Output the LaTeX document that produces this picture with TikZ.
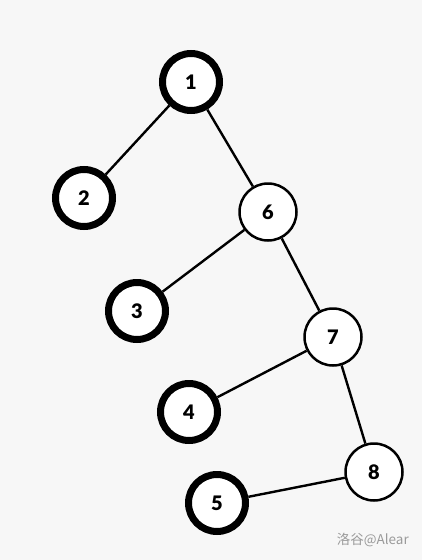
\documentclass[tikz,border=0pt]{standalone}
\usepackage{fontspec}
\setmainfont{Lato}
\newfontfamily\digitfont{Lato Black}
\newfontfamily\cjk{Noto Sans CJK SC}
\definecolor{bg}{HTML}{F7F7F7}
\definecolor{wm}{HTML}{9A9A9A}
\begin{document}
\begin{tikzpicture}[x=1pt,y=-1pt,
  vtx/.style={circle,fill=white,draw=black,minimum size=57pt,inner sep=0pt,font=\digitfont\fontsize{20}{24}\selectfont},
  heavy/.style={vtx,line width=7pt},
  light/.style={vtx,line width=2.5pt},
  edge/.style={line width=2.4pt,black}]
\fill[bg] (0,0) rectangle (422,560);
\useasboundingbox (0,0) rectangle (422,560);
\node[heavy] (n1) at (191,82) {1};
\node[heavy] (n2) at (84,198) {2};
\node[light] (n6) at (268,212) {6};
\node[heavy] (n3) at (137,311) {3};
\node[light] (n7) at (333,337) {7};
\node[heavy] (n4) at (189,412) {4};
\node[light] (n8) at (374,472) {8};
\node[heavy] (n5) at (217,503) {5};
\draw[edge] (n1) -- (n2);
\draw[edge] (n1) -- (n6);
\draw[edge] (n6) -- (n3);
\draw[edge] (n6) -- (n7);
\draw[edge] (n7) -- (n4);
\draw[edge] (n7) -- (n8);
\draw[edge] (n8) -- (n5);
\node[font=\cjk\fontsize{13.5}{15}\selectfont,text=wm,anchor=east,inner sep=0pt] (wmk) at (409,540) {洛谷@Alear};
\end{tikzpicture}
\end{document}
